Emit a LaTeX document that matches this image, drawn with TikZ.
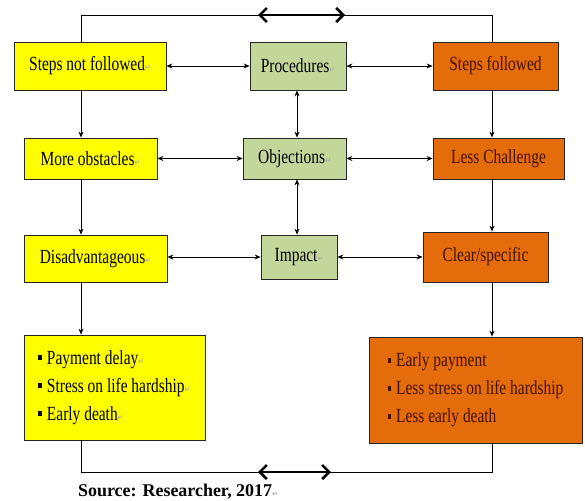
\documentclass[tikz,border=0pt]{standalone}
\usepackage{fontspec}
\setmainfont{Liberation Serif}
\newfontfamily\symfont{DejaVu Sans}
\usepackage{graphicx}
\usepackage{tikz}
\usetikzlibrary{arrows.meta}

\definecolor{boxyellow}{RGB}{255,255,0}
\definecolor{boxgreen}{RGB}{196,215,155}
\definecolor{boxorange}{RGB}{228,108,10}
\definecolor{darkbrown}{RGB}{70,18,0}

\newcommand{\ret}{{\symfont\color{black!35}\fontsize{7}{7}\selectfont ↵}}
\newcommand{\bul}{\rule[0.2em]{0.25em}{0.25em}\hspace{0.3em}}
\newcommand{\tall}[1]{\scalebox{1}[1.3]{#1}}

\begin{document}
\begin{tikzpicture}[x=10bp, y=-10bp,
  basebox/.style={draw=black!85, line width=0.8bp, inner sep=0pt, font=\fontsize{15.5}{18}\selectfont},
  ybox/.style={basebox, fill=boxyellow},
  gbox/.style={basebox, fill=boxgreen},
  obox/.style={basebox, fill=boxorange, text=darkbrown},
  twoway/.style={line width=0.8bp, {Stealth[length=6bp,width=5bp]}-{Stealth[length=6bp,width=5bp]}},
  oneway/.style={line width=0.8bp, -{Stealth[length=6bp,width=5bp]}},
  frame/.style={line width=0.9bp},
  bigarrow/.style={line width=2.6bp, {Straight Barb[length=7bp,width=14bp]}-{Straight Barb[length=7bp,width=14bp]}}]

\useasboundingbox (0,0) rectangle (58.5,50.1);

% the columns of the connectors
\coordinate (lx) at (8.1,0);
\coordinate (mx) at (29.7,0);
\coordinate (rx) at (49.2,0);
\coordinate (top) at (0,1.5);
\coordinate (bot) at (0,47.2);

% the top row
\node [ybox, minimum width=152bp, minimum height=48bp] (snf) at (9.0,6.6) {\tall{Steps not followed\ret}};
\node [gbox, minimum width=96bp, minimum height=48bp] (proc) at (29.8,6.6) {\tall{Procedures\ret}};
\node [obox, minimum width=125bp, minimum height=48bp] (sf) at (49.55,6.6) {\tall{Steps followed}};

% the middle row
\node [ybox, minimum width=133bp, minimum height=41bp] (mo) at (9.05,15.85) {\tall{More obstacles\ret}};
\node [gbox, minimum width=103bp, minimum height=41bp] (obj) at (29.45,15.85) {\tall{Objections\ret}};
\node [obox, minimum width=131bp, minimum height=41bp] (lc) at (49.85,15.85) {\tall{Less Challenge}};

% the third row
\node [ybox, minimum width=143bp, minimum height=47bp] (dis) at (9.55,25.85) {\tall{Disadvantageous\ret}};
\node [gbox, minimum width=76bp, minimum height=44bp] (imp) at (29.9,25.7) {\tall{Impact\ret}};
\node [obox, minimum width=125bp, minimum height=50bp] (cs) at (48.55,25.7) {\tall{Clear/specific}};

% the results
\node [ybox, minimum width=181bp, minimum height=105bp, align=left, font=\fontsize{15.5}{28}\selectfont] (lres) at (11.45,38.75)
  {\tall{\bul Payment delay\ret}\\ \tall{\bul Stress on life hardship\ret}\\ \tall{\bul Early death\ret}};
\node [obox, minimum width=213bp, minimum height=106bp, align=left, font=\fontsize{15.5}{28}\selectfont] (rres) at (47.55,39.0)
  {\tall{\bul Early payment}\\ \tall{\bul Less stress on life hardship}\\ \tall{\bul Less early death}};

% the arrows across
\draw [twoway] (snf) -- (proc);
\draw [twoway] (proc) -- (sf);
\draw [twoway] (mo) -- (obj);
\draw [twoway] (obj) -- (lc);
\draw [twoway] (imp.west -| dis.east) -- (imp.west);
\draw [twoway] (imp) -- (cs);

% the arrows down
\draw [oneway] (snf.south -| lx) -- (mo.north -| lx);
\draw [oneway] (mo.south -| lx) -- (dis.north -| lx);
\draw [oneway] (dis.south -| lx) -- (lres.north -| lx);
\draw [twoway] (proc.south -| mx) -- (obj.north -| mx);
\draw [twoway] (obj.south -| mx) -- (imp.north -| mx);
\draw [oneway] (sf.south -| rx) -- (lc.north -| rx);
\draw [oneway] (lc.south -| rx) -- (cs.north -| rx);
\draw [oneway] (cs.south -| rx) -- (rres.north -| rx);

% the frame and the thick arrows
\draw [frame] (snf.north -| lx) |- (top -| rx) -- (sf.north -| rx);
\draw [frame] (lres.south -| lx) |- (bot -| rx) -- (rres.south -| rx);
\coordinate (tl) at (25.8,1.5);
\coordinate (tr) at (34.5,1.5);
\coordinate (bl) at (25.8,47.2);
\coordinate (br) at (33.1,47.2);
\draw [bigarrow] (tl) -- (tr);
\draw [bigarrow] (bl) -- (br);

% the source
\node [anchor=base west, inner sep=0pt, font=\bfseries\fontsize{18}{20}\selectfont] (src) at (7.8,49.6) {Source: Researcher, 2017\ret};

\end{tikzpicture}
\end{document}
